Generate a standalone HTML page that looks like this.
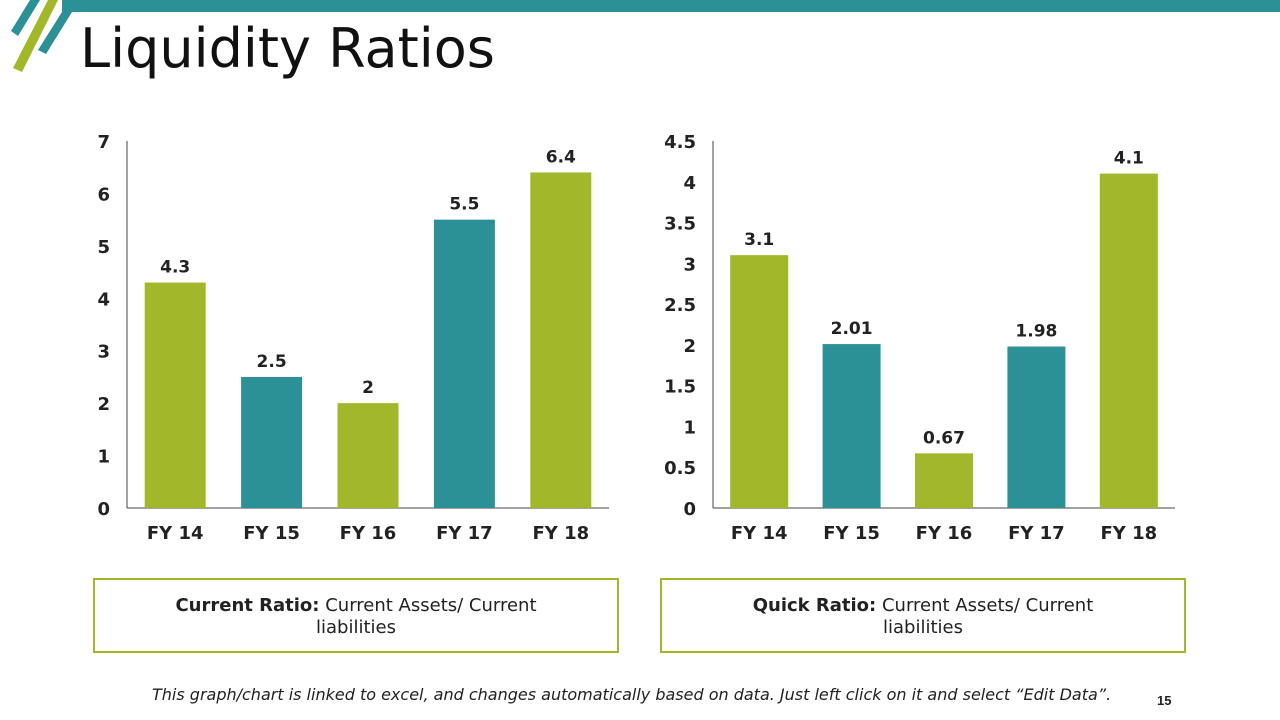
<!DOCTYPE html>
<html><head><meta charset="utf-8"><style>
body{margin:0;width:1280px;height:720px;overflow:hidden;background:#fff;font-family:"Liberation Sans",sans-serif;position:relative}
.box{position:absolute;top:578px;height:75px;border:2px solid #a2b72a;box-sizing:border-box;width:526px;text-align:center;color:#222;padding-top:15px;line-height:22px;font-family:"DejaVu Sans",sans-serif;font-size:18px}
</style></head><body>
<svg width="1280" height="720" style="position:absolute;left:0;top:0">
<rect x="62" y="0" width="1218" height="12" fill="#2b9196"/>
<polygon points="30,0 40,0 18,36 11,31" fill="#2b9196"/>
<polygon points="48,0 58,0 22,72 13,68" fill="#a2b72a"/>
<polygon points="62,12 72,12 46,54 38,50" fill="#2b9196"/>
<g id="c1"></g><g id="c2"></g>
</svg>
<div style="position:absolute;left:80px;top:17px;font-size:54px;color:#111;font-family:'DejaVu Sans',sans-serif">Liquidity Ratios</div>
<div class="box" style="left:93px"><b>Current Ratio:</b> Current Assets/ Current<br>liabilities</div>
<div class="box" style="left:660px"><b>Quick Ratio:</b> Current Assets/ Current<br>liabilities</div>
<div style="position:absolute;left:152px;top:685px;font-size:16px;font-style:italic;color:#222;font-family:'DejaVu Sans',sans-serif;white-space:nowrap">This graph/chart is linked to excel, and changes automatically based on data. Just left click on it and select “Edit Data”.</div>
<div style="position:absolute;left:1157px;top:693px;font-size:13px;font-weight:bold;color:#222">15</div>
<script>
const categories=["FY 14","FY 15","FY 16","FY 17","FY 18"];
const currentValues=[4.3,2.5,2,5.5,6.4];
const currentLabels=["4.3","2.5","2","5.5","6.4"];
const currentTicks=["0","1","2","3","4","5","6","7"];
const quickValues=[3.1,2.01,0.67,1.98,4.1];
const quickLabels=["3.1","2.01","0.67","1.98","4.1"];
const quickTicks=["0","0.5","1","1.5","2","2.5","3","3.5","4","4.5"];
const colors=["#a2b72a","#2b9196","#a2b72a","#2b9196","#a2b72a"];
const NS="http://www.w3.org/2000/svg";
function mk(p,t,a){const e=document.createElementNS(NS,t);for(const k in a)e.setAttribute(k,a[k]);p.appendChild(e);return e;}
function draw(gid,x0,x1,max,ticks,vals,labels,bw,name){
 const g=document.getElementById(gid);const y0=508,yt=141;
 const y=v=>y0-(v/max)*(y0-yt);
 const step=(x1-x0)/categories.length;
 let ax=mk(g,'line',{x1:x0,y1:yt,x2:x0,y2:y0,stroke:'#444','stroke-width':1});
 
 
 let bx=mk(g,'line',{x1:x0,y1:y0,x2:x1,y2:y0,stroke:'#444','stroke-width':1});
 
 
 ticks.forEach(t=>{const tx=mk(g,'text',{x:x0-17,y:y(parseFloat(t))+7,'text-anchor':'end','font-size':18,'font-weight':'bold',fill:'#222','font-family':'DejaVu Sans,sans-serif'});tx.textContent=t;
  
  });
 categories.forEach((c,i)=>{const cx=x0+step*(i+0.5);
  const r=mk(g,'rect',{x:cx-bw/2,y:y(vals[i]),width:bw,height:y0-y(vals[i]),fill:colors[i]});
  
  
  const l=mk(g,'text',{x:cx,y:y(vals[i])-10,'text-anchor':'middle','font-size':17,'font-weight':'bold',fill:'#222','font-family':'DejaVu Sans,sans-serif'});l.textContent=labels[i];
  
  
  const xl=mk(g,'text',{x:cx,y:539,'text-anchor':'middle','font-size':18,'font-weight':'bold',fill:'#222','font-family':'DejaVu Sans,sans-serif'});xl.textContent=c;
  
  });
}
draw('c1',127,609,7,currentTicks,currentValues,currentLabels,61,'current-ratio');
draw('c2',713,1175,4.5,quickTicks,quickValues,quickLabels,58,'quick-ratio');
</script>
</body></html>
